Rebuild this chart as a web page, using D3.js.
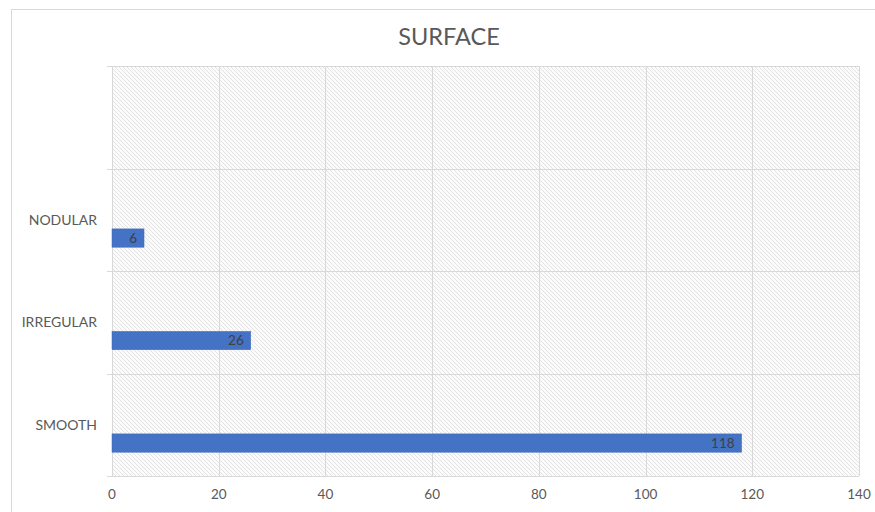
<!DOCTYPE html>
<html>
<head>
<meta charset="utf-8">
<script src="https://cdn.jsdelivr.net/npm/d3@7"></script>
<style>
  body { margin: 0; background: #fff; }
  svg { display: block; font-family: Lato, "Open Sans", sans-serif; }
</style>
</head>
<body>
<div id="chart"></div>
<script>
// Chart data (bottom to top, as Excel draws a bar chart)
const categories = ['SMOOTH', 'IRREGULAR', 'NODULAR', ''];
const values = [118, 26, 6, null];
const xTicks = [0, 20, 40, 60, 80, 100, 120, 140];
const chartTitle = 'SURFACE';

const width = 875, height = 512;
const plot = { left: 112, right: 859, top: 66, bottom: 476 };

const svg = d3.select('#chart').append('svg')
    .attr('width', width)
    .attr('height', height);

// Chart area border (runs past the cropped edges)
svg.append('rect')
    .attr('x', 11.5).attr('y', 9.5)
    .attr('width', 900).attr('height', 600)
    .attr('fill', '#fff')
    .attr('stroke', '#d9d9d9');

// Diagonal hatch fill for the plot area
const defs = svg.append('defs');
const pattern = defs.append('pattern')
    .attr('id', 'hatch')
    .attr('patternUnits', 'userSpaceOnUse')
    .attr('width', 4).attr('height', 4);
pattern.append('rect').attr('width', 4).attr('height', 4).attr('fill', '#fbfbfb');
pattern.append('path')
    .attr('d', 'M-1,-1 L5,5 M-1,3 L1,5 M3,-1 L5,1')
    .attr('stroke', '#e0e0e0')
    .attr('stroke-width', 0.9);

svg.append('rect')
    .attr('x', plot.left).attr('y', plot.top)
    .attr('width', plot.right - plot.left)
    .attr('height', plot.bottom - plot.top)
    .attr('fill', 'url(#hatch)');

const x = d3.scaleLinear()
    .domain([0, 140])
    .range([plot.left, plot.right]);

const y = d3.scaleBand()
    .domain(categories.map((c, i) => i))
    .range([plot.bottom, plot.top]);

// Three series slots per category; only the first carries data
const slot = d3.scaleBand()
    .domain([0, 1, 2])
    .range([y.bandwidth(), 0])
    .paddingInner(0)
    .paddingOuter(1.3);

// Vertical gridlines
svg.append('g')
    .selectAll('line')
    .data(xTicks)
    .join('line')
    .attr('x1', d => Math.round(x(d)) + 0.5)
    .attr('x2', d => Math.round(x(d)) + 0.5)
    .attr('y1', plot.top)
    .attr('y2', plot.bottom)
    .attr('stroke', '#d9d9d9');

// Horizontal lines at category boundaries (with small ticks to the left)
const bounds = d3.range(categories.length + 1).map(i =>
    i < categories.length ? y(i) + y.bandwidth() : y(i - 1));
svg.append('g')
    .selectAll('line')
    .data(bounds)
    .join('line')
    .attr('x1', plot.left - 5)
    .attr('x2', plot.right)
    .attr('y1', d => Math.round(d) + 0.5)
    .attr('y2', d => Math.round(d) + 0.5)
    .attr('stroke', '#d9d9d9');

// Bars
const rows = categories.map((c, i) => ({ cat: c, i: i, v: values[i] }))
    .filter(d => d.v != null);

svg.append('g')
    .selectAll('rect')
    .data(rows)
    .join('rect')
    .attr('x', x(0))
    .attr('y', d => y(d.i) + slot(0))
    .attr('width', d => x(d.v) - x(0))
    .attr('height', slot.bandwidth())
    .attr('fill', '#4472c4')
    .attr('stroke', '#3f6ab8')
    .attr('stroke-width', 0.5);

// Data labels, inside end
svg.append('g')
    .selectAll('text')
    .data(rows)
    .join('text')
    .attr('x', d => x(d.v) - 7)
    .attr('y', d => y(d.i) + slot(0) + slot.bandwidth() / 2)
    .attr('dy', '0.36em')
    .attr('text-anchor', 'end')
    .attr('font-size', 13.5)
    .attr('fill', '#404040')
    .text(d => d.v);

// Category labels
svg.append('g')
    .selectAll('text')
    .data(categories)
    .join('text')
    .attr('x', 97)
    .attr('y', (d, i) => y(i) + y.bandwidth() / 2)
    .attr('dy', '0.36em')
    .attr('text-anchor', 'end')
    .attr('font-size', 14)
    .attr('fill', '#595959')
    .text(d => d);

// X tick labels
svg.append('g')
    .selectAll('text')
    .data(xTicks)
    .join('text')
    .attr('x', d => x(d))
    .attr('y', 494)
    .attr('dy', '0.36em')
    .attr('text-anchor', 'middle')
    .attr('font-size', 13.5)
    .attr('fill', '#595959')
    .text(d => d);

// Title
svg.append('text')
    .attr('x', 449)
    .attr('y', 37)
    .attr('dy', '0.36em')
    .attr('text-anchor', 'middle')
    .attr('font-size', 23.5)
    .attr('fill', '#595959')
    .text(chartTitle);
</script>
</body>
</html>
